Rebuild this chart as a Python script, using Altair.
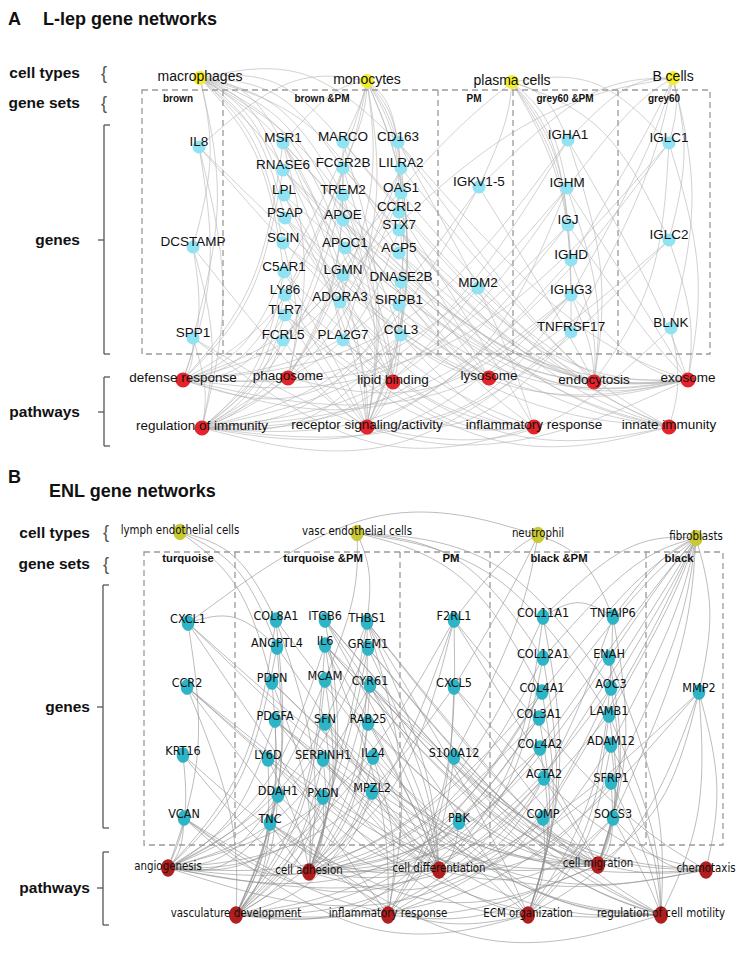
import altair as alt
import pandas as pd

# ---------------- Panel A : L-lep gene networks ----------------
a_cell_keys = ["MA", "MO", "PC", "BC"]
a_cell_names = ["macrophages", "monocytes", "plasma cells", "B cells"]
a_cell_x = [200, 367, 512, 673]
a_cell_y = [78, 81, 82, 78]

a_path_keys = ["DR", "PH", "LB", "LY", "EN", "EX", "RI", "RS", "IR", "II"]
a_path_names = ["defense response", "phagosome", "lipid binding", "lysosome", "endocytosis",
                "exosome", "regulation of immunity", "receptor signaling/activity",
                "inflammatory response", "innate immunity"]
a_path_x = [183, 288, 393, 489, 594, 688, 202, 367, 534, 669]
a_path_y = [380, 378, 382, 378, 382, 380, 428, 427, 427, 427]

a_gene_names = ["IL8", "DCSTAMP", "SPP1",
                "MSR1", "RNASE6", "LPL", "PSAP", "SCIN", "C5AR1", "LY86", "TLR7", "FCRL5",
                "MARCO", "FCGR2B", "TREM2", "APOE", "APOC1", "LGMN", "ADORA3", "PLA2G7",
                "CD163", "LILRA2", "OAS1", "CCRL2", "STX7", "ACP5", "DNASE2B", "SIRPB1", "CCL3",
                "IGKV1-5", "MDM2",
                "IGHA1", "IGHM", "IGJ", "IGHD", "IGHG3", "TNFRSF17",
                "IGLC1", "IGLC2", "BLNK"]
a_gene_x = [199, 193, 193,
            283, 283, 284, 285, 283, 284, 285, 285, 283,
            343, 343, 343, 343, 345, 343, 340, 343,
            398, 401, 401, 399, 399, 399, 401, 399, 401,
            479, 478,
            568, 567, 568, 571, 571, 571,
            669, 669, 671]
a_gene_y = [147, 247, 338,
            143, 170, 195, 218, 243, 272, 295, 315, 340,
            142, 168, 195, 220, 248, 275, 302, 340,
            142, 168, 193, 212, 230, 253, 282, 305, 335,
            187, 288,
            140, 188, 225, 260, 295, 332,
            143, 240, 328]
a_gene_links = ["MO DR RI IR II", "MA DR RI RS", "MA DR RI IR EX",
                "MA MO DR PH LB RS EN II", "MA DR LY II EX", "MA LB EX RS", "MA LY LB EX",
                "MA PH EX", "MA MO DR RI RS IR", "MO DR RI II RS", "DR RI II RS IR", "PC BC RS RI",
                "MA MO PH RS EN II", "MA MO PH RI RS EN II DR", "MA RI RS II",
                "MA LB LY EX IR EN", "MA LB EX", "MA LY RI EX", "MO RS IR", "MA MO LB IR",
                "MA MO RS EN IR EX", "MO RS RI II DR", "MO DR II RI", "MO RS IR",
                "PH LY EN EX", "MA LY EX", "LY EX", "MO RS RI", "MA MO DR IR RS RI",
                "PC BC DR RI EN", "RI EX",
                "PC BC DR RI EX EN", "PC BC DR RI EN RS EX", "PC DR RI EX", "PC BC RI EN",
                "PC BC DR RI EN RS EX PH", "PC BC RS RI",
                "BC PC DR RI EX EN", "BC PC DR RI EX", "BC RS II"]
a_set_names = ["brown", "brown &PM", "PM", "grey60 &PM", "grey60"]
a_set_x = [178, 322, 474, 565, 664]

# ---------------- Panel B : ENL gene networks ----------------
b_cell_keys = ["LE", "VE", "NE", "FB"]
b_cell_names = ["lymph endothelial cells", "vasc endothelial cells", "neutrophil", "fibroblasts"]
b_cell_x = [180, 357, 538, 696]
b_cell_y = [532, 533, 535, 538]

b_path_keys = ["AN", "CA", "CD", "CM", "CH", "VD", "IR", "EC", "RM"]
b_path_names = ["angiogenesis", "cell adhesion", "cell differentiation", "cell migration",
                "chemotaxis", "vasculature development", "inflammatory response",
                "ECM organization", "regulation of cell motility"]
b_path_x = [168, 309, 439, 598, 706, 236, 388, 528, 661]
b_path_y = [868, 872, 870, 865, 870, 915, 915, 915, 915]

b_gene_names = ["CXCL1", "CCR2", "KRT16", "VCAN",
                "COL8A1", "ANGPTL4", "PDPN", "PDGFA", "LY6D", "DDAH1", "TNC",
                "ITGB6", "IL6", "MCAM", "SFN", "SERPINH1", "PXDN",
                "THBS1", "GREM1", "CYR61", "RAB25", "IL24", "MPZL2",
                "F2RL1", "CXCL5", "S100A12", "PBK",
                "COL11A1", "COL12A1", "COL4A1", "COL3A1", "COL4A2", "ACTA2", "COMP",
                "TNFAIP6", "ENAH", "AOC3", "LAMB1", "ADAM12", "SFRP1", "SOCS3",
                "MMP2"]
b_gene_x = [188, 187, 183, 184,
            276, 277, 272, 275, 268, 278, 270,
            325, 325, 325, 325, 323, 323,
            367, 368, 370, 368, 373, 372,
            454, 454, 454, 459,
            543, 543, 542, 539, 540, 544, 543,
            613, 609, 611, 609, 611, 611, 613,
            699]
b_gene_y = [623, 687, 755, 818,
            620, 647, 682, 720, 759, 795, 823,
            620, 645, 680, 723, 759, 797,
            622, 648, 685, 723, 757, 792,
            620, 687, 757, 822,
            617, 658, 692, 718, 748, 778, 818,
            617, 658, 688, 715, 745, 782, 818,
            692]
b_gene_links = ["NE AN CH IR CM ANGPTL4", "CH IR CM RM VD", "CD CA AN", "AN CA CD EC CM",
                "LE CA EC VD AN", "LE AN VD CD", "LE VD CA CM RM", "AN VD CM CH RM CD",
                "CA VD CD", "AN VD CD", "CA CM EC VD AN RM",
                "CA CM RM EC CD", "AN VD IR CD CM RM CH CA", "VE AN CA CM VD", "CD CA RM",
                "EC CA VD CD", "EC AN VD CA",
                "VE AN CA CM RM VD EC IR CD", "AN VD CD RM CM", "AN VD CA CM RM CD CH",
                "CD CA CM", "CD IR AN RM CA", "CA CD VD",
                "NE IR CM CH VD AN CA", "NE CH IR CM AN", "NE IR CH CM", "CD VD",
                "FB EC CD CA TNFAIP6", "VE FB EC CA CD", "VE FB EC AN CA VD", "FB EC VD CA AN",
                "FB EC VD AN CA", "FB CM VD CA CD", "FB EC CD CA",
                "NE FB IR EC CM", "FB CM RM CA", "VE FB CA CM IR", "VE FB EC CA CM RM",
                "FB EC CD CM RM", "FB CD CM RM AN", "FB IR CD CM RM CH",
                "FB EC AN CM RM VD CH"]
b_set_names = ["turquoise", "turquoise &PM", "PM", "black &PM", "black"]
b_set_x = [188, 323, 451, 559, 679]

# ---------------- frames & labels ----------------
box_x = [142, 144]
box_x2 = [710, 723]
box_y = [90, 552]
box_y2 = [354, 845]
div_x = [223, 438, 513, 618, 235, 400, 490, 646]
div_y = [90, 90, 90, 90, 552, 552, 552, 552]
div_y2 = [354, 354, 354, 354, 845, 845, 845, 845]

side_names = ["cell types", "gene sets", "genes", "pathways",
              "cell types", "gene sets", "genes", "pathways"]
side_x = [80, 80, 80, 80, 90, 90, 90, 90]
side_y = [73, 103, 240, 412, 533, 564, 707, 888]

# bracket pieces (x, y, x2, y2)
br_x = [104, 104, 104, 98, 104, 104, 104, 98, 103, 103, 103, 97, 103, 103, 103, 97]
br_x2 = [104, 110, 110, 104, 104, 110, 110, 104, 103, 109, 109, 103, 103, 109, 109, 103]
br_y = [125, 125, 354, 240, 377, 377, 446, 412, 585, 585, 828, 707, 852, 852, 925, 888]
br_y2 = [354, 125, 354, 240, 446, 377, 446, 412, 828, 585, 828, 707, 925, 852, 925, 888]
brace_x = [104, 104, 106, 106]
brace_y = [74, 104, 533, 565]

titles = ["A", "L-lep gene networks", "B", "ENL gene networks"]
title_x = [8, 43, 8, 49]
title_y = [20, 20, 478, 492]

# ---------------- build tables ----------------
FONT = "Liberation Sans, Arial, sans-serif"
NARROW = "DejaVu Sans Condensed, Liberation Sans, sans-serif"


def edges(tag, gnames, gx, gy, links, ckeys, cx, cy, pkeys, px, py):
    pos = {}
    for n, x, y in zip(gnames, gx, gy):
        pos[n] = (x, y, "g")
    for n, x, y in zip(ckeys, cx, cy):
        pos[n] = (x, y, "c")
    for n, x, y in zip(pkeys, px, py):
        pos[n] = (x, y, "p")
    rows = []
    k = 0
    for g, tl in zip(gnames, links):
        for t in tl.split():
            x0, y0, _ = pos[g]
            x1, y1, kind = pos[t]
            if kind == "c":
                x0, y0, x1, y1 = x1, y1, x0, y0
                bend = -1
            elif kind == "p":
                bend = 1
            else:
                bend = -1
            dx, dy = x1 - x0, y1 - y0
            mx = (x0 + x1) / 2 + 0.12 * dy
            my = (y0 + y1) / 2 + bend * (0.25 * abs(dx) + 4)
            eid = f"{tag}{k}"
            k += 1
            rows += [(eid, 0, x0, y0), (eid, 1, mx, my), (eid, 2, x1, y1)]
    return pd.DataFrame(rows, columns=["eid", "seq", "x", "y"])


edf_a = edges("A", a_gene_names, a_gene_x, a_gene_y, a_gene_links, a_cell_keys, a_cell_x,
              a_cell_y, a_path_keys, a_path_x, a_path_y)
edf_b = edges("B", b_gene_names, b_gene_x, b_gene_y, b_gene_links, b_cell_keys, b_cell_x,
              b_cell_y, b_path_keys, b_path_x, b_path_y)


def nodes(names, xs, ys, kind):
    return pd.DataFrame({"name": names, "x": xs, "y": ys, "kind": kind})


nA_g = nodes(a_gene_names, a_gene_x, a_gene_y, "A_gene")
nA_c = nodes(a_cell_names, a_cell_x, a_cell_y, "A_cell")
nA_p = nodes(a_path_names, a_path_x, a_path_y, "A_path")
nB_g = nodes(b_gene_names, b_gene_x, b_gene_y, "B_gene")
nB_c = nodes(b_cell_names, b_cell_x, b_cell_y, "B_cell")
nB_p = nodes(b_path_names, b_path_x, b_path_y, "B_path")
ndf = pd.concat([nA_g, nA_c, nA_p, nB_g, nB_c, nB_p], ignore_index=True)

XS = alt.Scale(domain=[8, 744], range=[0, 736], nice=False, zero=False)
YS = alt.Scale(domain=[8, 963], range=[0, 955], nice=False, zero=False)
X = alt.X("x:Q", scale=XS, axis=None)
Y = alt.Y("y:Q", scale=YS, axis=None)

ELL = "M0,-1A0.8,1,0,1,1,0,1A0.8,1,0,1,1,0,-1Z"
kinds = ["A_gene", "A_cell", "A_path", "B_gene", "B_cell", "B_path"]
kcolors = ["#8fe3f3", "#f4ef2a", "#e3242b", "#2db4c6", "#c9c933", "#b21d1d"]
ksizes = [170, 300, 290, 250, 380, 320]
kshapes = ["circle", "circle", "circle", ELL, ELL, ELL]

edge_a = alt.Chart(edf_a).mark_line(interpolate="basis", strokeWidth=0.6,
                                     color="#b3b3b3").encode(
    x=X, y=Y, detail="eid:N", order="seq:Q")
edge_b = alt.Chart(edf_b).mark_line(interpolate="basis", strokeWidth=0.6,
                                     color="#8e8e8e").encode(
    x=X, y=Y, detail="eid:N", order="seq:Q")

box_df = pd.DataFrame({"x": box_x, "x2": box_x2, "y": box_y, "y2": box_y2})
box_layer = alt.Chart(box_df).mark_rect(fillOpacity=0, stroke="#9a9a9a", strokeWidth=1.3,
                                         strokeDash=[6, 4]).encode(
    x=X, x2="x2:Q", y=Y, y2="y2:Q")
div_df = pd.DataFrame({"x": div_x, "y": div_y, "y2": div_y2})
div_layer = alt.Chart(div_df).mark_rule(color="#9a9a9a", strokeWidth=1.3,
                                         strokeDash=[6, 4]).encode(x=X, y=Y, y2="y2:Q")

br_df = pd.DataFrame({"x": br_x, "x2": br_x2, "y": br_y, "y2": br_y2})
br_layer = alt.Chart(br_df).mark_rule(color="#555555", strokeWidth=1.3).encode(
    x=X, x2="x2:Q", y=Y, y2="y2:Q")
brace_df = pd.DataFrame({"x": brace_x, "y": brace_y, "t": ["{"] * 4})
brace_layer = alt.Chart(brace_df).mark_text(font=FONT, fontSize=18, color="#555555",
                                             baseline="middle").encode(x=X, y=Y, text="t:N")

node_layer = alt.Chart(ndf).mark_point(filled=True, opacity=1, strokeWidth=0).encode(
    x=X, y=Y,
    color=alt.Color("kind:N", scale=alt.Scale(domain=kinds, range=kcolors), legend=None),
    size=alt.Size("kind:N", scale=alt.Scale(domain=kinds, range=ksizes), legend=None),
    shape=alt.Shape("kind:N", scale=alt.Scale(domain=kinds, range=kshapes), legend=None))


def labels(df, font, size, dy):
    return alt.Chart(df).mark_text(font=font, fontSize=size, dy=dy, color="#111111",
                                   baseline="middle", align="center").encode(
        x=X, y=Y, text="name:N")


lab_layers = [labels(nA_g, FONT, 13.5, -5), labels(nA_c, FONT, 14, -1),
              labels(nA_p, FONT, 13.5, -2), labels(nB_g, NARROW, 12.5, -4),
              labels(nB_c, NARROW, 11.4, -1), labels(nB_p, NARROW, 11.4, -1)]

set_df = pd.DataFrame({"name": a_set_names + b_set_names, "x": a_set_x + b_set_x,
                       "y": [99] * 5 + [559] * 5, "sz": [10] * 5 + [11.3] * 5})
set_layer = alt.Chart(set_df).mark_text(font=FONT, fontWeight="bold", color="#111111",
                                         baseline="middle").encode(
    x=X, y=Y, text="name:N", size=alt.Size("sz:Q", scale=None, legend=None))

side_df = pd.DataFrame({"name": side_names, "x": side_x, "y": side_y})
side_layer = alt.Chart(side_df).mark_text(font=FONT, fontWeight="bold", fontSize=15.5,
                                           color="#111111", align="right",
                                           baseline="middle").encode(x=X, y=Y, text="name:N")

title_df = pd.DataFrame({"name": titles, "x": title_x, "y": title_y})
title_layer = alt.Chart(title_df).mark_text(font=FONT, fontWeight="bold", fontSize=18,
                                             color="#111111", align="left",
                                             baseline="middle").encode(x=X, y=Y, text="name:N")

chart = alt.layer(edge_a, edge_b, box_layer, div_layer, br_layer, brace_layer, node_layer,
                  *lab_layers, set_layer, side_layer, title_layer).properties(
    width=736, height=955, padding=0, autosize=alt.AutoSizeParams(type="none")
).configure_view(stroke=None)

chart.save("out.html", embed_options={"renderer": "svg", "actions": False})
